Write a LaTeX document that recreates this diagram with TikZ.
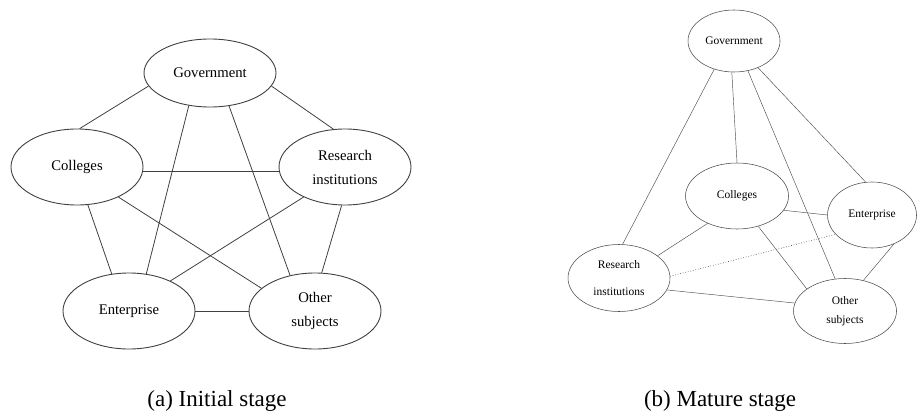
\documentclass[tikz,border=0pt]{standalone}
\usepackage{fontspec}
\setmainfont{Liberation Serif}
\newfontfamily\capfont{Liberation Serif}
\usetikzlibrary{shapes.geometric}

\begin{document}
\begin{tikzpicture}[x=1pt,y=-1pt,
  bigactor/.style={ellipse,draw=black!75,line width=0.9pt,inner sep=0pt,
    minimum width=132pt,minimum height=76pt,align=center,
    font=\capfont\fontsize{14.7}{24}\selectfont},
  smallactor/.style={ellipse,draw=black!70,line width=0.55pt,inner sep=0pt,
    minimum width=102pt,minimum height=66pt,align=center,
    font=\capfont\fontsize{11.5}{19}\selectfont},
  tiel/.style={draw=black!75,line width=0.8pt},
  tier/.style={draw=black!70,line width=0.45pt},
  caption/.style={anchor=base,font=\capfont\fontsize{23}{27}\selectfont}]
  \useasboundingbox (0,0) rectangle (917,412);
  % (a) initial stage
  \node[bigactor,minimum height=68pt] (gova) at (210,73) {Government};
  \node[bigactor] (cola) at (77,167) {Colleges};
  \node[bigactor] (resa) at (345,167) {Research\\institutions};
  \node[bigactor] (enta) at (129,311) {Enterprise};
  \node[bigactor] (otha) at (315,311) {Other\\subjects};
  \draw[tiel] (gova.192) -- (cola.86);
  \draw[tiel] (gova.348) -- (resa.107);
  \draw[tiel] (gova.237) -- (enta.65);
  \draw[tiel] (gova.300) -- (otha.125);
  \draw[tiel] (cola.356) -- (resa.184);
  \draw[tiel] (cola.286) -- (enta.115);
  \draw[tiel] (cola.324) -- (otha.157);
  \draw[tiel] (resa.216) -- (enta.36);
  \draw[tiel] (resa.265) -- (otha.80);
  \draw[tiel] (enta.east) -- (otha.west);
  \node[caption] (capa) at (217,406) {(a) Initial stage};
  % (b) mature stage
  \node[smallactor,minimum width=92pt,minimum height=62pt] (govb) at (734,41) {Government};
  \node[smallactor,minimum width=103pt] (colb) at (737,196) {Colleges};
  \node[smallactor,minimum width=89pt] (entb) at (872,215) {Enterprise};
  \node[smallactor,minimum height=67pt] (resb) at (619,278) {Research\\[8pt]institutions};
  \node[smallactor,minimum width=103pt,minimum height=65pt] (othb) at (845,311) {Other\\subjects};
  \draw[tier] (govb.235) -- (resb.84);
  \draw[tier] (govb.266) -- (colb.90);
  \draw[tier] (govb.295) -- (othb.107);
  \draw[tier] (govb.312) -- (entb.101);
  \draw[tier] (colb.343) -- (entb.180);
  \draw[tier] (colb.223) -- (resb.30);
  \draw[tier] (colb.305) -- (othb.150);
  \draw[tier,draw=black!80,line width=0.6pt,dotted] (resb.2) -- (entb.208);
  \draw[tier] (resb.346) -- (othb.171);
  \draw[tier] (entb.307) -- (othb.59);
  \node[caption] (capb) at (720,406) {(b) Mature stage};
\end{tikzpicture}
\end{document}
